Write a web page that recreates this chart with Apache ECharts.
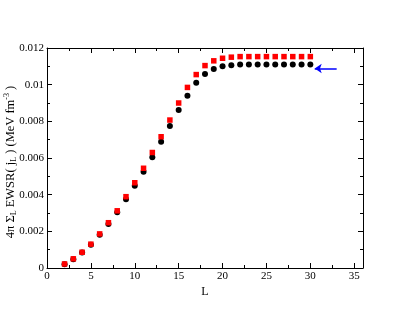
<!DOCTYPE html>
<html>
<head>
<meta charset="utf-8">
<script src="https://cdn.jsdelivr.net/npm/echarts@6/dist/echarts.min.js"></script>
<style>html,body{margin:0;padding:0;background:#fff}#c{width:409px;height:316px}</style>
</head>
<body>
<div id="c"></div>
<script>
var L = [2,3,4,5,6,7,8,9,10,11,12,13,14,15,16,17,18,19,20,21,22,23,24,25,26,27,28,29,30];
var redVals = [0.00022,0.0005,0.00086,0.0013,0.00186,0.00247,0.00312,0.00389,0.00465,0.00544,0.0063,0.00716,0.00807,0.009,0.00985,0.01055,0.01104,0.0113,0.01144,0.0115,0.01153,0.01153,0.01153,0.01153,0.01153,0.01153,0.01153,0.01153,0.01153];
var blackVals = [0.0002,0.00048,0.00084,0.00127,0.00182,0.0024,0.00304,0.00375,0.00448,0.00525,0.00604,0.00689,0.00775,0.00862,0.0094,0.0101,0.01058,0.01086,0.011,0.01106,0.0111,0.0111,0.0111,0.0111,0.0111,0.0111,0.0111,0.0111,0.0111];
var arrowFrom = [33.0, 0.01088];
var arrowTo = [30.5, 0.01088];
var xTicks = [0,5,10,15,20,25,30,35];
var yTicks = ['0','0.002','0.004','0.006','0.008','0.01','0.012'];

function pairs(xs, ys){ return xs.map(function(x,i){return [x, ys[i]];}); }
var font = 'Liberation Serif';
var chart = echarts.init(document.getElementById('c'));
var common = {
  axisLine:{show:true, onZero:false, lineStyle:{color:'#000', width:1}},
  splitLine:{show:false}
};
chart.setOption({
  animation:false,
  backgroundColor:'#fff',
  grid:{left:47, right:46, top:48, bottom:48, containLabel:false, outerBoundsMode:'none'},
  xAxis:[
    Object.assign({type:'value', min:0, max:36, interval:5, position:'bottom',
      name:'L', nameLocation:'middle', nameGap:18, nameMoveOverlap:false,
      nameTextStyle:{fontFamily:font, fontSize:12, color:'#000'},
      axisTick:{show:true, inside:true, length:5, lineStyle:{color:'#000'}},
      minorTick:{show:true, splitNumber:2, length:3, lineStyle:{color:'#000'}},
      axisLabel:{fontFamily:font, fontSize:11, color:'#000', margin:3,
        formatter:function(v){return xTicks.indexOf(v)>=0 ? String(v) : '';}}
    }, common),
    Object.assign({type:'value', min:0, max:36, interval:5, position:'top',
      axisTick:{show:true, inside:true, length:5, lineStyle:{color:'#000'}},
      minorTick:{show:true, splitNumber:2, length:3, lineStyle:{color:'#000'}},
      axisLabel:{show:false}
    }, common)
  ],
  yAxis:[
    Object.assign({type:'value', min:0, max:0.012, interval:0.002, position:'left',
      name:'{a|4π Σ}{s|L}{a| EWSR( j}{s|L}{a| ) (MeV fm}{p|-3}{a| )}',
      nameLocation:'middle', nameGap:29, nameRotate:90, nameMoveOverlap:false,
      nameTextStyle:{fontFamily:font, fontSize:12.5, color:'#000', padding:[0,8,0,0],
        rich:{
          a:{fontFamily:font, fontSize:12.5, color:'#000', lineHeight:15},
          s:{fontFamily:font, fontSize:8, color:'#000', lineHeight:15, padding:[6,0,0,0]},
          p:{fontFamily:font, fontSize:8, color:'#000', lineHeight:15, padding:[0,0,8,0]}
        }},
      axisTick:{show:true, inside:true, length:5, lineStyle:{color:'#000'}},
      minorTick:{show:true, splitNumber:2, length:3, lineStyle:{color:'#000'}},
      axisLabel:{fontFamily:font, fontSize:11, color:'#000', margin:3,
        formatter:function(v){
          var s = String(Math.round(v*1000)/1000);
          return yTicks.indexOf(s)>=0 ? s : '';
        }}
    }, common),
    Object.assign({type:'value', min:0, max:0.012, interval:0.002, position:'right',
      axisTick:{show:true, inside:true, length:5, lineStyle:{color:'#000'}},
      minorTick:{show:true, splitNumber:2, length:3, lineStyle:{color:'#000'}},
      axisLabel:{show:false}
    }, common)
  ],
  series:[
    {type:'scatter', name:'black', data:pairs(L, blackVals), symbol:'circle', symbolSize:6,
      itemStyle:{color:'#000', opacity:1}, z:2},
    {type:'scatter', name:'red', data:pairs(L, redVals), symbol:'rect', symbolSize:5.5,
      itemStyle:{color:'#ff0000', opacity:1}, z:3,
      markLine:{silent:true, symbol:['none','arrow'], symbolSize:[7,7],
        label:{show:false},
        lineStyle:{color:'#0000ff', width:1.5, type:'solid', opacity:1},
        data:[[{coord:arrowFrom},{coord:arrowTo}]]}}
  ]
});
</script>
</body>
</html>
